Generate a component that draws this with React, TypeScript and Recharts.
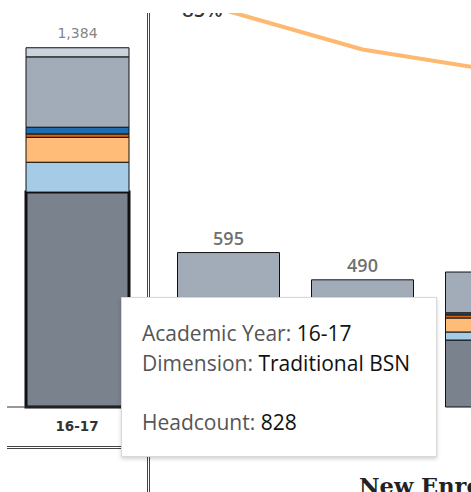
import { ComposedChart, BarChart, Bar, Line, XAxis, YAxis, LabelList } from 'recharts';

// Total headcount, left sheet
const leftYears = ['16-17'];
const leftTrad = [828];
const leftAccel = [115];
const leftRnBsn = [96];
const leftMsn = [13];
const leftDnp = [26];
const leftGrad = [271];
const leftOther = [35];

// New enrollment, right sheet
const rightYears = ['17-18', '18-19', '19-20'];
const rightTrad = [0, 0, 258];
const rightAccel = [0, 0, 31];
const rightRnBsn = [0, 0, 54];
const rightMsn = [0, 0, 12];
const rightDnp = [0, 0, 8];
const rightGrad = [595, 490, 157];
const rightOther = [0, 0, 0];
const retention = [85, 76, 71];

const COLORS = {
    trad: '#7a828d',
    accel: '#a5cbe7',
    rnbsn: '#ffbb78',
    msn: '#d6630f',
    dnp: '#1f6db0',
    grad: '#a2acb8',
    other: '#cbd3db',
};

const build = (years: string[], cols: Record<string, number[]>) =>
    years.map((year, i) => {
        const row: any = { year };
        let total = 0;
        Object.keys(cols).forEach(k => {
            row[k] = cols[k][i];
            total += cols[k][i];
        });
        row.total = total;
        return row;
    });

const leftData = build(leftYears, {
    trad: leftTrad, accel: leftAccel, rnbsn: leftRnBsn, msn: leftMsn,
    dnp: leftDnp, grad: leftGrad, other: leftOther,
});
const rightData = build(rightYears, {
    trad: rightTrad, accel: rightAccel, rnbsn: rightRnBsn, msn: rightMsn,
    dnp: rightDnp, grad: rightGrad, other: rightOther,
}).map((r, i) => ({ ...r, pct: retention[i] }));

const SERIES = ['trad', 'accel', 'rnbsn', 'msn', 'dnp', 'grad', 'other'] as const;

const YearTick = (props: any) => (
    <text x={props.x} y={431} textAnchor="middle" fontFamily="DejaVu Sans" fontWeight="bold" fontSize={13.5} fill="#333">
        {props.payload.value}
    </text>
);

export default function App() {
    const leftTotal = (p: any) => (
        <text x={p.x + p.width / 2} y={p.y - 9.5} textAnchor="middle" fontFamily="DejaVu Sans" fontSize={14} fill="#858585">
            {leftData[p.index].total.toLocaleString('en-US')}
        </text>
    );
    // grad is the top visible piece of every right-hand stack
    const rightTotal = (p: any) => (
        <text x={p.x + p.width / 2} y={p.y - 8} textAnchor="middle" fontFamily="Open Sans" fontWeight={600} fontSize={18} fill="#707070">
            {rightData[p.index].total.toLocaleString('en-US')}
        </text>
    );
    const pctLabel = (p: any) =>
        p.index === 0 ? (
            <text x={p.x - 6} y={p.y + 5.5} textAnchor="end" fontFamily="Open Sans" fontWeight={600} fontSize={20} fill="#333">
                {p.value}%
            </text>
        ) : null;

    const lbl = { color: '#555' };
    const val = { color: '#111' };

    return (
        <div style={{ position: 'absolute', left: 0, top: 0, width: 471, height: 492, overflow: 'hidden', background: '#fff' }}>
            {/* left sheet: total headcount */}
            <div style={{ position: 'absolute', left: 0, top: 0 }}>
                <BarChart width={147} height={439} data={leftData} margin={{ top: 0, right: 0, bottom: 0, left: 7 }}>
                    <XAxis dataKey="year" height={32} tickLine={false} axisLine={{ stroke: '#333' }} tick={<YearTick />} interval={0} />
                    <YAxis hide domain={[0, 1568]} />
                    {SERIES.map((k, i) => (
                        <Bar key={k} dataKey={k} stackId="a" fill={COLORS[k]} stroke="#111"
                            strokeWidth={k === 'trad' ? 3 : 1} barSize={103} isAnimationActive={false}>
                            {i === SERIES.length - 1 && <LabelList content={leftTotal} />}
                        </Bar>
                    ))}
                </BarChart>
            </div>

            {/* right sheet: new enrollment + retention line */}
            <div style={{ position: 'absolute', left: 151, top: 13, width: 320, height: 479, overflow: 'hidden' }}>
                <div style={{ position: 'absolute', left: -151, top: -13 }}>
                    <ComposedChart width={600} height={439} data={rightData} margin={{ top: 0, right: 36.5, bottom: 0, left: 161.5 }}>
                        <XAxis dataKey="year" height={32} tickLine={false} axisLine={false} tick={false} />
                        <YAxis yAxisId="count" hide domain={[0, 1568]} />
                        <YAxis yAxisId="pct" hide orientation="right" domain={[-8.11, 87.65]} />
                        {SERIES.map(k => (
                            <Bar key={k} yAxisId="count" dataKey={k} stackId="a" fill={COLORS[k]} stroke="#111"
                                strokeWidth={1} barSize={102} isAnimationActive={false}>
                                {k === 'grad' && <LabelList content={rightTotal} />}
                            </Bar>
                        ))}
                        <Line yAxisId="pct" dataKey="pct" stroke="#ffb870" strokeWidth={4} dot={false} isAnimationActive={false}>
                            <LabelList dataKey="pct" content={pctLabel} />
                        </Line>
                    </ComposedChart>
                </div>
            </div>

            {/* sheet dividers */}
            <div style={{ position: 'absolute', left: 147, top: 13, width: 1, height: 479, borderLeft: '1px solid #444', borderRight: '1px solid #444' }} />
            <div style={{ position: 'absolute', left: 7, top: 446, width: 140, height: 1, borderTop: '1px solid #444', borderBottom: '1px solid #444' }} />

            <div style={{ position: 'absolute', left: 359, top: 475.4, fontFamily: 'DejaVu Serif', fontWeight: 'bold', fontSize: 22.5, lineHeight: '22.5px', color: '#222', whiteSpace: 'nowrap' }}>
                New Enrollment
            </div>

            {/* hover tooltip */}
            <div style={{
                position: 'absolute', left: 121, top: 297, width: 314, height: 158, background: '#fff',
                border: '1px solid #d8d8d8', boxShadow: '0 2px 4px rgba(0,0,0,0.18)',
                fontFamily: 'Open Sans', fontSize: 21, lineHeight: '29.5px',
            }}>
                <div style={{ position: 'absolute', left: 20, top: 21, whiteSpace: 'nowrap' }}>
                    <div><span style={lbl}>Academic Year: </span><span style={val}>16-17</span></div>
                    <div><span style={lbl}>Dimension: </span><span style={val}>Traditional BSN</span></div>
                    <div>&nbsp;</div>
                    <div><span style={lbl}>Headcount: </span><span style={val}>828</span></div>
                </div>
            </div>
        </div>
    );
}
